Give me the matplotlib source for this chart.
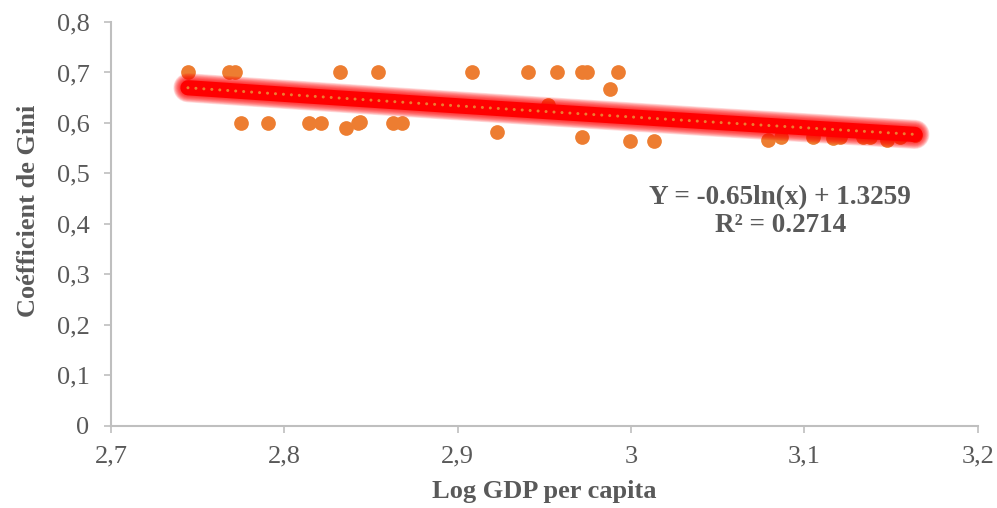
import numpy as np
import matplotlib.pyplot as plt

# Données
log_gdp = [2.7444, 2.7680, 2.7714, 2.8319, 2.8538, 2.9080, 2.9408, 2.9575,
           2.9719, 2.9748, 2.9926, 2.9880,
           2.7749, 2.7904, 2.8141, 2.8210, 2.8354, 2.8423, 2.8434, 2.8624,
           2.8676, 2.9224, 2.9719, 2.9995, 3.0134, 2.9520,
           3.0790, 3.0865, 3.1050, 3.1165, 3.1205, 3.1338, 3.1378, 3.1476,
           3.1551, 3.1637]
gini = [0.700, 0.700, 0.700, 0.700, 0.700, 0.700, 0.700, 0.700,
        0.700, 0.700, 0.700, 0.667,
        0.600, 0.600, 0.600, 0.600, 0.590, 0.600, 0.601, 0.600,
        0.600, 0.582, 0.573, 0.565, 0.565, 0.636,
        0.567, 0.572, 0.572, 0.570, 0.572, 0.573, 0.573, 0.567,
        0.573, 0.576]

coef_a = -0.65
coef_b = 1.3259
r2 = 0.2714

x_ticks = [2.7, 2.8, 2.9, 3.0, 3.1, 3.2]
x_labels = ['2,7', '2,8', '2,9', '3', '3,1', '3,2']
y_ticks = [0, 0.1, 0.2, 0.3, 0.4, 0.5, 0.6, 0.7, 0.8]
y_labels = ['0', '0,1', '0,2', '0,3', '0,4', '0,5', '0,6', '0,7', '0,8']

plt.rcParams['font.family'] = ['Liberation Serif', 'DejaVu Serif']

fig = plt.figure(figsize=(9.97, 5.08), dpi=100)
ax = fig.add_axes([0.1113, 0.162, 0.8695, 0.7947])

orange = '#ED7D31'
gris = '#BFBFBF'
texte = '#595959'

ax.scatter(log_gdp, gini, s=112, color=orange, zorder=2, linewidths=0)

# courbe de tendance logarithmique avec effet lumineux
xt = np.linspace(min(log_gdp), max(log_gdp), 200)
yt = coef_a * np.log(xt) + coef_b
for w in np.arange(21, 11, -1):
    ax.plot(xt, yt, color='red', lw=w, alpha=0.13, solid_capstyle='round', zorder=3)
ax.plot(xt, yt, color='red', lw=11, solid_capstyle='round', zorder=3)
ax.plot(xt, yt, color=orange, lw=2.2, linestyle=(0, (0.01, 2.6)),
        dash_capstyle='round', zorder=4)

ax.text(3.086, 0.4515, 'Y = -0.65ln(x) + 1.3259', ha='center', va='center',
        fontsize=19.5, fontweight='bold', color=texte)
ax.text(3.086, 0.396, 'R² = ' + str(r2), ha='center', va='center',
        fontsize=19.5, fontweight='bold', color=texte)

ax.set_xlim(2.7, 3.2)
ax.set_ylim(0, 0.8)
ax.set_xticks(x_ticks)
ax.set_xticklabels(x_labels)
ax.set_yticks(y_ticks)
ax.set_yticklabels(y_labels)
ax.tick_params(axis='both', labelsize=19, colors=texte, length=5, width=1.2, color=gris)
ax.tick_params(axis='x', pad=9.5)
ax.tick_params(axis='y', pad=10.5)

for s in ['top', 'right']:
    ax.spines[s].set_visible(False)
for s in ['left', 'bottom']:
    ax.spines[s].set_color(gris)
    ax.spines[s].set_linewidth(1.5)

ax.set_xlabel('Log GDP per capita', fontsize=19, fontweight='bold', color=texte, labelpad=9)
ax.set_ylabel('Coéfficient de Gini', fontsize=19, fontweight='bold', color=texte, labelpad=12)
ax.yaxis.label.set_y(0.532)

fig.savefig('out.png', dpi=100)
